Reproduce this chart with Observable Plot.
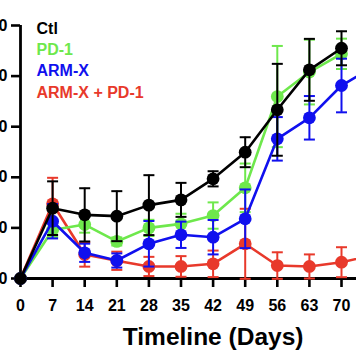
<!DOCTYPE html>
<html>
<head>
<meta charset="utf-8">
<script src="https://cdn.jsdelivr.net/npm/d3@7"></script>
<script src="https://cdn.jsdelivr.net/npm/@observablehq/plot@0.6"></script>
<style>
  html, body { margin: 0; padding: 0; background: #fff; overflow: hidden; width: 356px; height: 364px; }
  #chart svg { display: block; margin-left: -50px; max-width: none !important; height: 364px !important; }
</style>
</head>
<body>
<div id="chart"></div>
<script>
// ---- data ----
const days = [0, 7, 14, 21, 28, 35, 42, 49, 56, 63, 70, 77];
const xTicks = [0, 7, 14, 21, 28, 35, 42, 49, 56, 63, 70, 77];
const yTicks = [0, 500, 1000, 1500, 2000, 2500];
const seriesNames = ["Ctl", "PD-1", "ARM-X", "ARM-X + PD-1"];
const seriesColors = ["#000000", "#6ee84c", "#1010ee", "#e8392b"];

const ctlMean   = [0, 695, 629, 616, 725, 777, 985, 1248, 1667, 2062, 2275];
const ctlErr    = [0, 265, 263, 247, 296, 168, 75, 148, 454, 306, 168];
const pd1Mean   = [0, 480, 533, 366, 500, 540, 622, 896, 1798, 2040, 2220];
const pd1Err    = [0, 70, 80, 40, 80, 100, 130, 240, 500, 320, 150];
const armMean   = [0, 566, 254, 178, 343, 432, 408, 590, 1380, 1588, 1907, 2095];
const armErr    = [0, 170, 90, 70, 225, 130, 170, 290, 215, 215, 265, 250];
const comboMean = [0, 738, 237, 175, 119, 119, 145, 343, 128, 119, 161, 231];
const comboErr  = [0, 257, 120, 90, 95, 102, 131, 346, 131, 119, 148, 150];

const toRows = (mean, err) => mean.map((v, i) => ({day: days[i], v, lo: v - err[i], hi: v + err[i], e: err[i]}));
const groups = [
  {rows: toRows(comboMean, comboErr), color: seriesColors[3]},
  {rows: toRows(pd1Mean, pd1Err), color: seriesColors[1]},
  {rows: toRows(armMean, armErr), color: seriesColors[2]},
  {rows: toRows(ctlMean, ctlErr), color: seriesColors[0]}
];

const capSymbol = {
  draw(context, size) {
    const r = Math.sqrt(size / Math.PI);
    context.moveTo(-r, 0);
    context.lineTo(r, 0);
  }
};

const font = "'Liberation Sans', Arial, sans-serif";

const marks = [];
// axes
marks.push(Plot.ruleY([0], {stroke: "#000", strokeWidth: 2.8}));
marks.push(Plot.ruleX([0], {stroke: "#000", strokeWidth: 2.8}));
marks.push(Plot.axisX({ticks: xTicks, tickSize: 9, tickPadding: 12, strokeWidth: 2.6, fontSize: 16, fontWeight: "bold", label: null, tickFormat: d => String(d)}));
marks.push(Plot.axisY({ticks: yTicks, tickSize: 9, tickPadding: 4, strokeWidth: 2.6, fontSize: 16, fontWeight: "bold", label: null, tickFormat: d => String(d)}));

for (const g of groups) {
  const withErr = g.rows.filter(d => d.e > 0);
  marks.push(Plot.ruleX(withErr, {x: "day", y1: "lo", y2: "hi", stroke: g.color, strokeWidth: 2}));
  marks.push(Plot.dot(withErr, {x: "day", y: "hi", symbol: capSymbol, r: 5.5, stroke: g.color, strokeWidth: 2, fill: "none"}));
  marks.push(Plot.dot(withErr, {x: "day", y: "lo", symbol: capSymbol, r: 5.5, stroke: g.color, strokeWidth: 2, fill: "none"}));
  marks.push(Plot.line(g.rows, {x: "day", y: "v", stroke: g.color, strokeWidth: 2.6}));
  marks.push(Plot.dot(g.rows, {x: "day", y: "v", r: 6.4, fill: g.color, stroke: "none"}));
}

// legend
seriesNames.forEach((name, i) => {
  marks.push(Plot.text([name], {
    frameAnchor: "top-left", dx: 16, dy: 3 + i * 21.4,
    text: d => d, fill: seriesColors[i], fontSize: 16, fontWeight: "bold",
    textAnchor: "start", lineAnchor: "middle"
  }));
});

// x axis title
marks.push(Plot.text(["Timeline (Days)"], {
  frameAnchor: "bottom", dy: 66, text: d => d, fill: "#000",
  fontSize: 24.5, fontWeight: "bold", lineAnchor: "bottom", textAnchor: "middle"
}));

const chart = Plot.plot({
  width: 460,
  height: 364,
  marginLeft: 70,
  marginRight: 4.8,
  marginTop: 25,
  marginBottom: 86,
  x: {domain: [0, 84]},
  y: {domain: [0, 2500]},
  style: {fontFamily: font, color: "#000", background: "#fff"},
  marks
});
document.getElementById("chart").appendChild(chart);
</script>
</body>
</html>
